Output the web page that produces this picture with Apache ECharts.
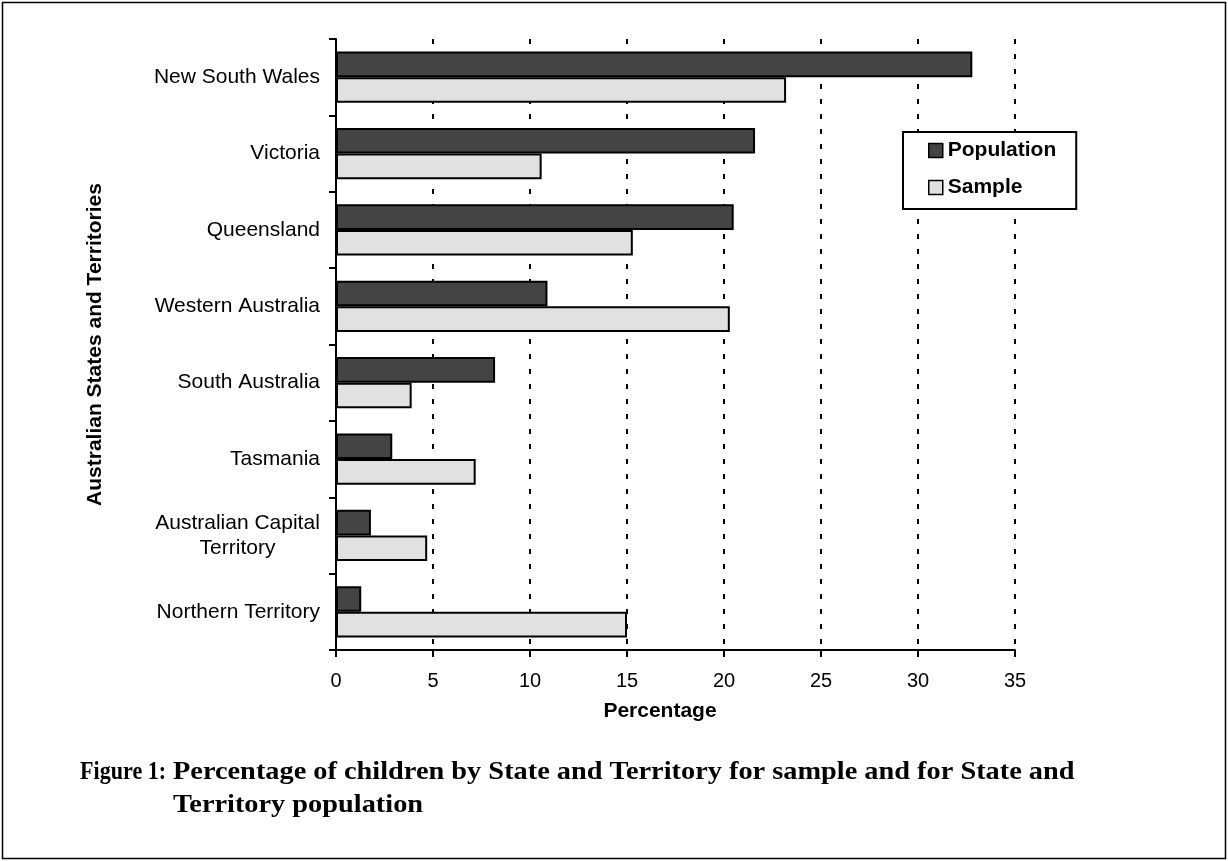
<!DOCTYPE html>
<html><head><meta charset="utf-8">
<script src="https://cdn.jsdelivr.net/npm/echarts@6/dist/echarts.min.js"></script>
<style>html,body{margin:0;padding:0;background:#fff}#chart{width:1228px;height:861px}</style>
</head><body><div id="chart"></div>
<script>
const categories = ['New South Wales','Victoria','Queensland','Western Australia','South Australia','Tasmania','Australian Capital Territory','Northern Territory'];
const populationValues = [32.8, 21.6, 20.5, 10.9, 8.2, 2.9, 1.8, 1.3];
const sampleValues = [23.2, 10.6, 15.3, 20.3, 3.9, 7.2, 4.7, 15.0];
const seriesNames = ['Population', 'Sample'];
const xMin = 0, xMax = 35, xStep = 5;
const xAxisTitle = 'Percentage';
const yAxisTitle = 'Australian States and Territories';
const captionLabel = 'Figure 1:';
const captionLines = ['Percentage of children by State and Territory for sample and for State and', 'Territory population'];

const SANS = '"Liberation Sans", Arial, sans-serif';
const SERIF = '"Liberation Serif", "Times New Roman", serif';

const chart = echarts.init(document.getElementById('chart'), null, {renderer: 'canvas'});
chart.setOption({
  backgroundColor: '#fff',
  animation: false,
  grid: {left: 336, right: 213, top: 39, height: 611, containLabel: false},
  legend: {
    orient: 'vertical', left: 903, top: 132,
    data: seriesNames,
    icon: 'rect', itemWidth: 14, itemHeight: 14, itemGap: 16,
    padding: [8, 20, 11, 25],
    borderColor: '#000', borderWidth: 2, backgroundColor: '#fff',
    itemStyle: {borderColor: '#000', borderWidth: 1.5},
    textStyle: {fontFamily: SANS, fontSize: 21, fontWeight: 'bold', color: '#000', lineHeight: 20}
  },
  xAxis: {
    type: 'value', min: xMin, max: xMax, interval: xStep,
    name: xAxisTitle, nameLocation: 'middle', nameGap: 51,
    nameTextStyle: {fontFamily: SANS, fontSize: 21, fontWeight: 'bold', color: '#000', padding: [0, 31, 0, 0]},
    axisLine: {show: true, lineStyle: {color: '#000', width: 2}},
    axisTick: {show: true, length: 7, lineStyle: {color: '#000', width: 2}},
    axisLabel: {fontFamily: SANS, fontSize: 20, color: '#000', margin: 21},
    splitLine: {show: true, showMinLine: false, lineStyle: {color: '#000', width: 2, type: [5, 10]}}
  },
  yAxis: {
    type: 'category', data: categories, inverse: true,
    name: yAxisTitle, nameLocation: 'middle', nameGap: 230,
    nameTextStyle: {fontFamily: SANS, fontSize: 21, fontWeight: 'bold', color: '#000'},
    axisLine: {show: true, lineStyle: {color: '#000', width: 2}},
    axisTick: {show: true, length: 7, alignWithLabel: false, lineStyle: {color: '#000', width: 2}},
    axisLabel: {
      fontFamily: SANS, fontSize: 21, color: '#000', margin: 16,
      formatter: function (v) {
        if (v === 'Australian Capital Territory') return '{c|Australian Capital}\n{c|Territory}';
        return v;
      },
      rich: {c: {fontFamily: SANS, fontSize: 21, color: '#000', width: 165, align: 'center', lineHeight: 25}}
    },
    splitLine: {show: false}
  },
  series: [
    {name: seriesNames[0], type: 'bar', data: populationValues, barGap: '0%', barCategoryGap: '33%',
     itemStyle: {color: '#444444', borderColor: '#000', borderWidth: 2}},
    {name: seriesNames[1], type: 'bar', data: sampleValues, barGap: '0%', barCategoryGap: '33%',
     itemStyle: {color: '#e1e1e1', borderColor: '#000', borderWidth: 2}}
  ],
  graphic: [
    {type: 'rect', shape: {x: 2.5, y: 2.5, width: 1223, height: 856}, style: {fill: 'none', stroke: '#000', lineWidth: 1.5}, silent: true},
    {type: 'text', x: 80, y: 772, scaleX: 0.85, style: {text: captionLabel, font: 'bold 26px ' + SERIF, fill: '#000', verticalAlign: 'middle'}},
    {type: 'text', x: 173, y: 772, scaleX: 1.09, style: {text: captionLines[0], font: 'bold 26px ' + SERIF, fill: '#000', verticalAlign: 'middle'}},
    {type: 'text', x: 173, y: 805, scaleX: 1.09, style: {text: captionLines[1], font: 'bold 26px ' + SERIF, fill: '#000', verticalAlign: 'middle'}}
  ]
});
</script>
</body></html>
